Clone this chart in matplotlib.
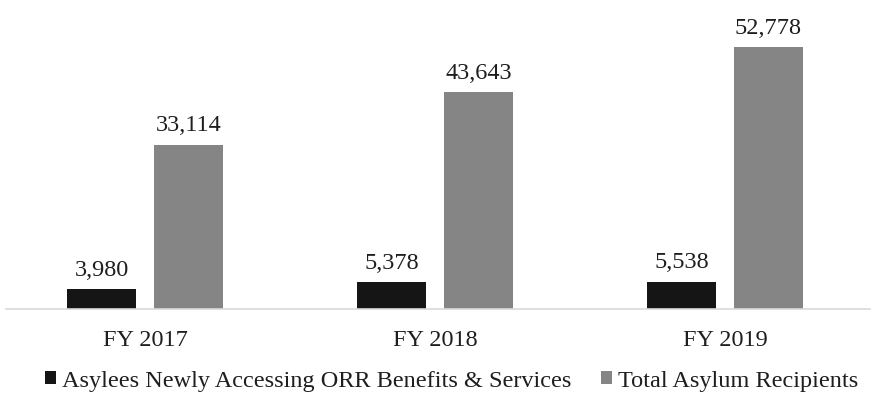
import matplotlib
matplotlib.use("Agg")
import matplotlib.pyplot as plt
import numpy as np

categories = ["FY 2017", "FY 2018", "FY 2019"]
asylees_orr = [3980, 5378, 5538]
total_asylum = [33114, 43643, 52778]
series_names = ["Asylees Newly Accessing ORR Benefits & Services", "Total Asylum Recipients"]

plt.rcParams['font.family'] = ['Liberation Serif', 'DejaVu Serif']

fig = plt.figure(figsize=(8.77, 3.97), dpi=100)
ax = fig.add_axes([0.0, 0.2217, 0.992, 0.75])

x = np.arange(len(categories))
w = 0.235
off = 0.15
b1 = ax.bar(x - off, asylees_orr, w, color="#151515", label=series_names[0])
b2 = ax.bar(x + off, total_asylum, w, color="#858585", label=series_names[1])

for bars, vals in ((b1, asylees_orr), (b2, total_asylum)):
    for r, v in zip(bars, vals):
        ax.annotate(f"{v:,}", (r.get_x() + r.get_width() / 2, r.get_height()),
                    xytext=(0, 6), textcoords="offset points",
                    ha="center", va="bottom", fontsize=17.5, color="#1e1e1e")

ax.set_xlim(-0.5, 2.5)
ax.set_ylim(0, 60000)
ax.set_xticks(x)
ax.set_xticklabels(categories, fontsize=17.5, color="#1e1e1e")
ax.tick_params(axis="x", length=0, pad=15)
ax.set_yticks([])
for s in ("top", "left", "right"):
    ax.spines[s].set_visible(False)
ax.spines["bottom"].set_color("#d9d9d9")
ax.spines["bottom"].set_linewidth(1.2)
ax.spines["bottom"].set_bounds(-0.48, 2.5)

leg = fig.legend(handles=[b1, b2], labels=series_names, loc="center",
                 bbox_to_anchor=(0.515, 0.04), ncol=2, frameon=False,
                 fontsize=17.5, handlelength=0.45, handleheight=0.45,
                 handletextpad=0.25, columnspacing=1.2)
for t in leg.get_texts():
    t.set_color("#1e1e1e")

fig.savefig("out.png", dpi=100, facecolor="white")
